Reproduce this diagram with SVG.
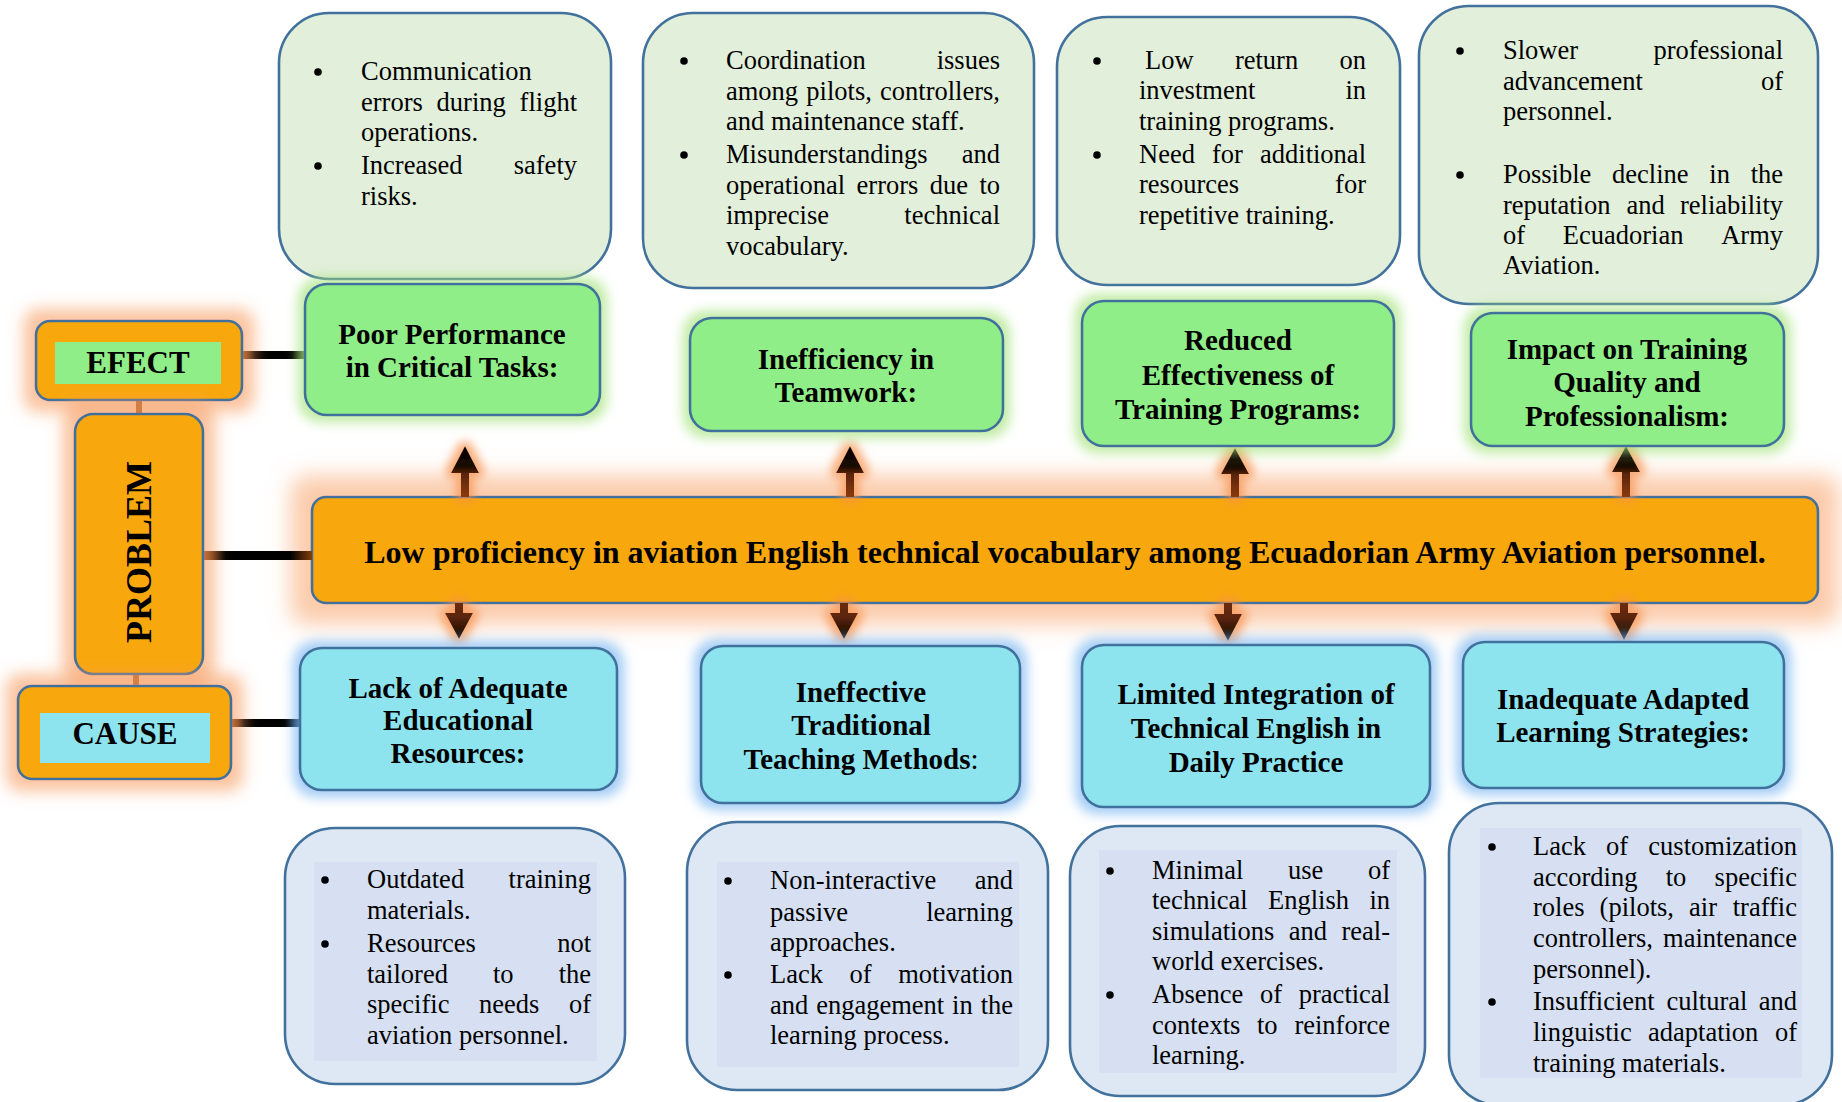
<svg xmlns="http://www.w3.org/2000/svg" width="1842" height="1102" viewBox="0 0 1842 1102">
<defs>
<style>
.bx{stroke:#41719C;stroke-width:2.6}
.tg{fill:#E2EFDA}
.bb{fill:#DEE8F5}
.inr{fill:#D6E0F2}
.grn{fill:#90EE88}
.cyn{fill:#8DE4EF}
.org{fill:#F8A710}
.dot{fill:#000}
.ttl{font-family:"Liberation Serif","Times New Roman",serif;font-weight:bold;font-size:29px;fill:#000;text-anchor:middle}
.bl{font-family:"Liberation Serif","Times New Roman",serif;font-size:26.5px;fill:#000}
.e{text-anchor:end}
.arU{fill:url(#gU)}
.arD{fill:url(#gD)}
</style>
<linearGradient id="gU" x1="0" y1="1" x2="0" y2="0">
<stop offset="0" stop-color="#8B3A0E"/><stop offset="0.45" stop-color="#5A2508"/><stop offset="0.6" stop-color="#1A0A02"/><stop offset="1" stop-color="#000"/>
</linearGradient>
<linearGradient id="gD" x1="0" y1="0" x2="0" y2="1">
<stop offset="0" stop-color="#6B2C08"/><stop offset="0.4" stop-color="#5A2508"/><stop offset="0.75" stop-color="#2A1205"/><stop offset="1" stop-color="#0F2236"/>
</linearGradient>
<linearGradient id="cE" x1="0" y1="0" x2="1" y2="0">
<stop offset="0" stop-color="#843C0C"/><stop offset="0.2" stop-color="#000"/><stop offset="0.8" stop-color="#000"/><stop offset="1" stop-color="#2F4A12"/>
</linearGradient>
<linearGradient id="cP" x1="0" y1="0" x2="1" y2="0">
<stop offset="0" stop-color="#843C0C"/><stop offset="0.2" stop-color="#000"/><stop offset="0.8" stop-color="#000"/><stop offset="1" stop-color="#843C0C"/>
</linearGradient>
<linearGradient id="cC" x1="0" y1="0" x2="1" y2="0">
<stop offset="0" stop-color="#843C0C"/><stop offset="0.2" stop-color="#000"/><stop offset="0.8" stop-color="#000"/><stop offset="1" stop-color="#0D2A4A"/>
</linearGradient>
<filter id="glowO" filterUnits="userSpaceOnUse" x="0" y="0" width="1842" height="1102">
<feMorphology in="SourceAlpha" operator="dilate" radius="11" result="d"/>
<feGaussianBlur in="d" stdDeviation="8" result="b"/>
<feFlood flood-color="#F79A5C" flood-opacity="0.6"/>
<feComposite in2="b" operator="in" result="g"/>
<feMerge><feMergeNode in="g"/><feMergeNode in="SourceGraphic"/></feMerge>
</filter>
<filter id="glowM" filterUnits="userSpaceOnUse" x="0" y="0" width="1842" height="1102">
<feMorphology in="SourceAlpha" operator="dilate" radius="20" result="d"/>
<feGaussianBlur in="d" stdDeviation="11" result="b"/>
<feFlood flood-color="#F9A872" flood-opacity="0.6"/>
<feComposite in2="b" operator="in" result="g"/>
<feMerge><feMergeNode in="g"/><feMergeNode in="SourceGraphic"/></feMerge>
</filter>
<filter id="glowG" filterUnits="userSpaceOnUse" x="0" y="0" width="1842" height="1102">
<feMorphology in="SourceAlpha" operator="dilate" radius="6" result="d"/>
<feGaussianBlur in="d" stdDeviation="6" result="b"/>
<feFlood flood-color="#A6E47E" flood-opacity="0.7"/>
<feComposite in2="b" operator="in" result="g"/>
<feMerge><feMergeNode in="g"/><feMergeNode in="SourceGraphic"/></feMerge>
</filter>
<filter id="glowB" filterUnits="userSpaceOnUse" x="0" y="0" width="1842" height="1102">
<feMorphology in="SourceAlpha" operator="dilate" radius="6" result="d"/>
<feGaussianBlur in="d" stdDeviation="6" result="b"/>
<feFlood flood-color="#7DB8F2" flood-opacity="0.7"/>
<feComposite in2="b" operator="in" result="g"/>
<feMerge><feMergeNode in="g"/><feMergeNode in="SourceGraphic"/></feMerge>
</filter>
<filter id="glowA" filterUnits="userSpaceOnUse" x="0" y="0" width="1842" height="1102">
<feMorphology in="SourceAlpha" operator="dilate" radius="5" result="d"/>
<feGaussianBlur in="d" stdDeviation="5" result="b"/>
<feFlood flood-color="#F7904A" flood-opacity="0.7"/>
<feComposite in2="b" operator="in" result="g"/>
<feMerge><feMergeNode in="g"/><feMergeNode in="SourceGraphic"/></feMerge>
</filter>
</defs>
<rect width="1842" height="1102" fill="#fff"/>

<!-- top bullet boxes -->
<g id="effect-detail-1">
<rect class="bx tg" x="279" y="13" width="332" height="266" rx="50"/>
<circle class="dot" cx="318" cy="72" r="3.8"/><text class="bl" x="361" y="80">Communication</text>
<text class="bl" x="361" y="111">errors</text><text class="bl" x="436.6" y="111">during</text><text class="bl e" x="577" y="111">flight</text>
<text class="bl" x="361" y="141">operations.</text>
<circle class="dot" cx="318" cy="166" r="3.8"/><text class="bl" x="361" y="174">Increased</text><text class="bl e" x="577" y="174">safety</text>
<text class="bl" x="361" y="205">risks.</text>
</g>
<g id="effect-detail-2">
<rect class="bx tg" x="643" y="13" width="391" height="275" rx="50"/>
<circle class="dot" cx="684" cy="61" r="3.8"/><text class="bl" x="726" y="69">Coordination</text><text class="bl e" x="1000" y="69">issues</text>
<text class="bl" x="726" y="100">among</text><text class="bl" x="806.3" y="100">pilots,</text><text class="bl e" x="1000" y="100">controllers,</text>
<text class="bl" x="726" y="130">and maintenance staff.</text>
<circle class="dot" cx="684" cy="155" r="3.8"/><text class="bl" x="726" y="163">Misunderstandings</text><text class="bl e" x="1000" y="163">and</text>
<text class="bl" x="726" y="194">operational</text><text class="bl" x="856.6" y="194">errors</text><text class="bl" x="929.8" y="194">due</text><text class="bl e" x="1000" y="194">to</text>
<text class="bl" x="726" y="224">imprecise</text><text class="bl e" x="1000" y="224">technical</text>
<text class="bl" x="726" y="255">vocabulary.</text>
</g>
<g id="effect-detail-3">
<rect class="bx tg" x="1057" y="17" width="343" height="268" rx="50"/>
<circle class="dot" cx="1097" cy="61" r="3.8"/><text class="bl" x="1145" y="69">Low</text><text class="bl" x="1234.9" y="69">return</text><text class="bl e" x="1366" y="69">on</text>
<text class="bl" x="1139" y="99">investment</text><text class="bl e" x="1366" y="99">in</text>
<text class="bl" x="1139" y="130">training programs.</text>
<circle class="dot" cx="1097" cy="155" r="3.8"/><text class="bl" x="1139" y="163">Need</text><text class="bl" x="1212" y="163">for</text><text class="bl e" x="1366" y="163">additional</text>
<text class="bl" x="1139" y="193">resources</text><text class="bl e" x="1366" y="193">for</text>
<text class="bl" x="1139" y="224">repetitive training.</text>
</g>
<g id="effect-detail-4">
<rect class="bx tg" x="1419" y="6" width="399" height="298" rx="50"/>
<circle class="dot" cx="1460" cy="51" r="3.8"/><text class="bl" x="1503" y="59">Slower</text><text class="bl e" x="1783" y="59">professional</text>
<text class="bl" x="1503" y="90">advancement</text><text class="bl e" x="1783" y="90">of</text>
<text class="bl" x="1503" y="120">personnel.</text>
<circle class="dot" cx="1460" cy="175" r="3.8"/><text class="bl" x="1503" y="183">Possible</text><text class="bl" x="1612.1" y="183">decline</text><text class="bl" x="1709.3" y="183">in</text><text class="bl e" x="1783" y="183">the</text>
<text class="bl" x="1503" y="214">reputation</text><text class="bl" x="1626.5" y="214">and</text><text class="bl e" x="1783" y="214">reliability</text>
<text class="bl" x="1503" y="244">of</text><text class="bl" x="1562.8" y="244">Ecuadorian</text><text class="bl e" x="1783" y="244">Army</text>
<text class="bl" x="1503" y="274">Aviation.</text>
</g>

<!-- bottom bullet boxes -->
<g id="cause-detail-1">
<rect class="bx bb" x="285" y="828" width="340" height="256" rx="50"/>
<rect class="inr" x="314" y="862" width="283" height="199"/>
<circle class="dot" cx="325" cy="880" r="3.8"/><text class="bl" x="367" y="888">Outdated</text><text class="bl e" x="591" y="888">training</text>
<text class="bl" x="367" y="919">materials.</text>
<circle class="dot" cx="325" cy="944" r="3.8"/><text class="bl" x="367" y="952">Resources</text><text class="bl e" x="591" y="952">not</text>
<text class="bl" x="367" y="983">tailored</text><text class="bl" x="493" y="983">to</text><text class="bl e" x="591" y="983">the</text>
<text class="bl" x="367" y="1013">specific</text><text class="bl" x="479" y="1013">needs</text><text class="bl e" x="591" y="1013">of</text>
<text class="bl" x="367" y="1044">aviation personnel.</text>
</g>
<g id="cause-detail-2">
<rect class="bx bb" x="687" y="822" width="361" height="268" rx="50"/>
<rect class="inr" x="717" y="862" width="302" height="205"/>
<circle class="dot" cx="728" cy="881" r="3.8"/><text class="bl" x="770" y="889">Non-interactive</text><text class="bl e" x="1013" y="889">and</text>
<text class="bl" x="770" y="921">passive</text><text class="bl e" x="1013" y="921">learning</text>
<text class="bl" x="770" y="951">approaches.</text>
<circle class="dot" cx="728" cy="975" r="3.8"/><text class="bl" x="770" y="983">Lack</text><text class="bl" x="849.5" y="983">of</text><text class="bl e" x="1013" y="983">motivation</text>
<text class="bl" x="770" y="1014">and</text><text class="bl" x="816.2" y="1014">engagement</text><text class="bl" x="952.1" y="1014">in</text><text class="bl e" x="1013" y="1014">the</text>
<text class="bl" x="770" y="1044">learning process.</text>
</g>
<g id="cause-detail-3">
<rect class="bx bb" x="1070" y="826" width="355" height="270" rx="50"/>
<rect class="inr" x="1099" y="850" width="298" height="223"/>
<circle class="dot" cx="1110" cy="871" r="3.8"/><text class="bl" x="1152" y="879">Minimal</text><text class="bl" x="1287.9" y="879">use</text><text class="bl e" x="1390" y="879">of</text>
<text class="bl" x="1152" y="909">technical</text><text class="bl" x="1268" y="909">English</text><text class="bl e" x="1390" y="909">in</text>
<text class="bl" x="1152" y="940">simulations</text><text class="bl" x="1288.7" y="940">and</text><text class="bl e" x="1390" y="940">real-</text>
<text class="bl" x="1152" y="970">world exercises.</text>
<circle class="dot" cx="1110" cy="995" r="3.8"/><text class="bl" x="1152" y="1003">Absence</text><text class="bl" x="1259.9" y="1003">of</text><text class="bl e" x="1390" y="1003">practical</text>
<text class="bl" x="1152" y="1034">contexts</text><text class="bl" x="1257" y="1034">to</text><text class="bl e" x="1390" y="1034">reinforce</text>
<text class="bl" x="1152" y="1064">learning.</text>
</g>
<g id="cause-detail-4">
<rect class="bx bb" x="1449" y="803" width="383" height="302" rx="50"/>
<rect class="inr" x="1480" y="828" width="322" height="250"/>
<circle class="dot" cx="1492" cy="847" r="3.8"/><text class="bl" x="1533" y="855">Lack</text><text class="bl" x="1606.1" y="855">of</text><text class="bl e" x="1797" y="855">customization</text>
<text class="bl" x="1533" y="886">according</text><text class="bl" x="1665.7" y="886">to</text><text class="bl e" x="1797" y="886">specific</text>
<text class="bl" x="1533" y="916">roles</text><text class="bl" x="1599.6" y="916">(pilots,</text><text class="bl" x="1689.1" y="916">air</text><text class="bl e" x="1797" y="916">traffic</text>
<text class="bl" x="1533" y="947">controllers,</text><text class="bl e" x="1797" y="947">maintenance</text>
<text class="bl" x="1533" y="978">personnel).</text>
<circle class="dot" cx="1492" cy="1002" r="3.8"/><text class="bl" x="1533" y="1010">Insufficient</text><text class="bl" x="1666.5" y="1010">cultural</text><text class="bl e" x="1797" y="1010">and</text>
<text class="bl" x="1533" y="1041">linguistic</text><text class="bl" x="1648" y="1041">adaptation</text><text class="bl e" x="1797" y="1041">of</text>
<text class="bl" x="1533" y="1072">training materials.</text>
</g>

<!-- main problem -->
<g id="problem-statement">
<rect class="bx org" x="312" y="497" width="1506" height="106" rx="14" filter="url(#glowM)"/>
<text class="ttl" x="1065" y="563" style="font-size:32px">Low proficiency in aviation English technical vocabulary among Ecuadorian Army Aviation personnel.</text>
</g>

<!-- connectors -->
<g id="connectors">
<rect x="136" y="399" width="6" height="17" fill="#843C0C"/>
<rect x="133" y="672" width="6" height="16" fill="#843C0C"/>
<rect x="242" y="351" width="63" height="8" fill="url(#cE)"/>
<rect x="203" y="551" width="109" height="9" fill="url(#cP)"/>
<rect x="231" y="719" width="69" height="8" fill="url(#cC)"/>
<g filter="url(#glowA)">
<path class="arU" d="M461,497 L461,473 L451,473 L465,446 L479,473 L469,473 L469,497 Z"/>
<path class="arU" d="M846,497 L846,473 L836,473 L850,446 L864,473 L854,473 L854,497 Z"/>
<path class="arU" d="M1231,497 L1231,474 L1221,474 L1235,448 L1249,474 L1239,474 L1239,497 Z"/>
<path class="arU" d="M1622,497 L1622,472 L1612,472 L1626,446 L1640,472 L1630,472 L1630,497 Z"/>
<path class="arD" d="M455,603 L455,613 L445,613 L459,639 L473,613 L463,613 L463,603 Z"/>
<path class="arD" d="M840,603 L840,613 L830,613 L844,639 L858,613 L848,613 L848,603 Z"/>
<path class="arD" d="M1224,603 L1224,614 L1214,614 L1228,641 L1242,614 L1232,614 L1232,603 Z"/>
<path class="arD" d="M1620,603 L1620,613 L1610,613 L1624,640 L1638,613 L1628,613 L1628,603 Z"/>
</g>
</g>

<!-- left labels -->
<g id="efect-label">
<rect class="bx org" x="36" y="321" width="206" height="79" rx="14" filter="url(#glowO)"/>
<rect class="grn" x="55" y="342" width="166" height="42"/>
<text class="ttl" x="138" y="373" style="font-size:31px">EFECT</text>
</g>
<g id="problem-label">
<rect class="bx org" x="75" y="414" width="128" height="260" rx="18" filter="url(#glowO)"/>
<text class="ttl" transform="translate(151,552) rotate(-90)" x="0" y="0" style="font-size:36px">PROBLEM</text>
</g>
<g id="cause-label">
<rect class="bx org" x="18" y="686" width="213" height="93" rx="14" filter="url(#glowO)"/>
<rect class="cyn" x="40" y="713" width="170" height="50"/>
<text class="ttl" x="125" y="744" style="font-size:31px">CAUSE</text>
</g>

<!-- effects -->
<g id="effect-1">
<rect class="bx grn" x="305" y="284" width="295" height="131" rx="22" filter="url(#glowG)"/>
<text class="ttl" x="452" y="344">Poor Performance</text>
<text class="ttl" x="452" y="377">in Critical Tasks:</text>
</g>
<g id="effect-2">
<rect class="bx grn" x="690" y="318" width="313" height="113" rx="22" filter="url(#glowG)"/>
<text class="ttl" x="846" y="369">Inefficiency in</text>
<text class="ttl" x="846" y="402">Teamwork:</text>
</g>
<g id="effect-3">
<rect class="bx grn" x="1082" y="301" width="312" height="145" rx="22" filter="url(#glowG)"/>
<text class="ttl" x="1238" y="350">Reduced</text>
<text class="ttl" x="1238" y="385">Effectiveness of</text>
<text class="ttl" x="1238" y="419">Training Programs:</text>
</g>
<g id="effect-4">
<rect class="bx grn" x="1471" y="313" width="313" height="133" rx="22" filter="url(#glowG)"/>
<text class="ttl" x="1627" y="359">Impact on Training</text>
<text class="ttl" x="1627" y="392">Quality and</text>
<text class="ttl" x="1627" y="426">Professionalism:</text>
</g>

<!-- causes -->
<g id="cause-1">
<rect class="bx cyn" x="300" y="648" width="317" height="142" rx="22" filter="url(#glowB)"/>
<text class="ttl" x="458" y="698">Lack of Adequate</text>
<text class="ttl" x="458" y="730">Educational</text>
<text class="ttl" x="458" y="763">Resources:</text>
</g>
<g id="cause-2">
<rect class="bx cyn" x="701" y="646" width="319" height="157" rx="22" filter="url(#glowB)"/>
<text class="ttl" x="861" y="702">Ineffective</text>
<text class="ttl" x="861" y="735">Traditional</text>
<text class="ttl" x="861" y="769">Teaching Methods<tspan font-weight="normal">:</tspan></text>
</g>
<g id="cause-3">
<rect class="bx cyn" x="1082" y="645" width="348" height="162" rx="22" filter="url(#glowB)"/>
<text class="ttl" x="1256" y="704">Limited Integration of</text>
<text class="ttl" x="1256" y="738">Technical English in</text>
<text class="ttl" x="1256" y="772">Daily Practice</text>
</g>
<g id="cause-4">
<rect class="bx cyn" x="1463" y="642" width="321" height="146" rx="22" filter="url(#glowB)"/>
<text class="ttl" x="1623" y="709">Inadequate Adapted</text>
<text class="ttl" x="1623" y="742">Learning Strategies:</text>
</g>
</svg>
